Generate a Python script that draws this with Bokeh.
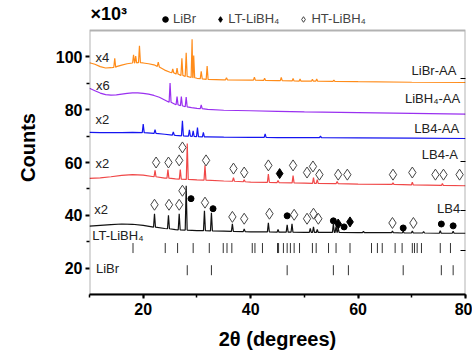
import numpy as np
from bokeh.plotting import figure
from bokeh.models import (LinearAxis, Range1d, SingleIntervalTicker, FixedTicker,
                          Legend, LegendItem, Label, BoxAnnotation)
from bokeh.core.properties import value
from bokeh.embed import file_html
from bokeh.resources import INLINE

FONT = "Liberation Sans"

# ---------------- data (2θ in degrees, counts in 10^3) ----------------
# LiBr-AA (orange)
libraa_base_x = [10, 11, 12, 13, 14, 15, 16, 17, 18, 19, 20, 21, 22, 23, 24, 25, 26, 27, 28, 29, 30, 31, 32, 35, 40, 45, 50, 60, 70, 80]
libraa_base_y = [97.8, 97.2, 96.3, 95.8, 95.9, 96.3, 96.9, 97.4, 97.7, 97.8, 97.7, 97.4, 97.0, 96.2, 95.0, 94.2, 93.6, 93.0, 92.6, 92.2, 91.9, 91.7, 91.5, 91.3, 91.2, 91.0, 90.8, 90.6, 90.4, 90.3]
libraa_peak_pos = [14.7, 18.2, 18.6, 19.3, 22.8, 25.5, 26.3, 27.2, 28.0, 29.1, 29.4, 30.8, 31.9, 35.5, 40.7, 42.6, 45.7, 47.9, 49.2, 51.5, 52.3, 55.5]
libraa_peak_base = [96.0, 97.7, 97.7, 97.8, 96.4, 94.0, 93.5, 93.0, 92.6, 92.2, 92.1, 91.8, 91.5, 91.3, 91.2, 91.1, 91.0, 90.9, 90.8, 90.8, 90.8, 90.7]
libraa_peak_top = [99.5, 100.8, 100.3, 104.2, 98.0, 95.5, 95.8, 99.5, 101.6, 106.7, 100.5, 94.5, 96.5, 92.1, 92.3, 91.9, 92.2, 91.8, 91.6, 91.5, 91.6, 91.2]

# LiBH4-AA (purple)
libh4aa_base_x = [10, 11, 12, 13, 14, 15, 16, 17, 18, 19, 20, 21, 22, 23, 24, 25, 26, 27, 28, 29, 30, 32, 35, 40, 45, 50, 60, 70, 80]
libh4aa_base_y = [88.1, 87.2, 86.3, 85.7, 85.5, 85.6, 85.9, 86.2, 86.4, 86.4, 86.2, 85.9, 85.4, 84.7, 83.7, 82.8, 82.0, 81.5, 81.1, 80.8, 80.5, 80.1, 79.8, 79.6, 79.4, 79.2, 78.9, 78.6, 78.3]
libh4aa_peak_pos = [25.0, 26.3, 27.1, 28.0, 30.8]
libh4aa_peak_base = [82.8, 81.9, 81.5, 81.1, 80.4]
libh4aa_peak_top = [90.1, 85.0, 85.0, 84.8, 81.8]

# LB4-AA (blue)
lb4aa_base_x = [10, 12, 14, 16, 18, 20, 22, 24, 26, 28, 30, 32, 35, 40, 45, 50, 60, 70, 80]
lb4aa_base_y = [71.4, 71.3, 71.3, 71.3, 71.4, 71.3, 71.0, 70.7, 70.3, 70.0, 69.8, 69.7, 69.6, 69.5, 69.4, 69.4, 69.3, 69.2, 69.1]
lb4aa_peak_pos = [20.0, 22.2, 25.6, 27.3, 28.6, 29.3, 30.1, 31.2, 42.7, 53.0]
lb4aa_peak_base = [71.3, 71.0, 70.4, 70.1, 70.0, 69.9, 69.8, 69.7, 69.5, 69.4]
lb4aa_peak_top = [74.6, 72.4, 71.6, 75.8, 72.4, 72.0, 73.2, 71.4, 70.8, 70.0]

# LB4-A (red)
lb4a_base_x = [10, 12, 14, 16, 18, 20, 22, 24, 26, 28, 30, 35, 40, 45, 50, 60, 70, 80]
lb4a_base_y = [54.0, 54.2, 54.6, 55.1, 55.4, 55.2, 54.6, 54.1, 53.8, 53.6, 53.4, 53.0, 52.6, 52.4, 52.2, 51.8, 51.5, 51.2]
lb4a_peak_pos = [22.2, 24.6, 26.9, 28.2, 31.5, 36.8, 38.8, 43.3, 45.1, 47.9, 51.7, 52.4, 56.1, 66.5, 70.1, 75.7]
lb4a_peak_base = [54.6, 54.1, 53.7, 53.6, 53.3, 52.9, 52.7, 52.5, 52.4, 52.3, 52.1, 52.1, 52.0, 51.7, 51.5, 51.3]
lb4a_peak_top = [57.0, 57.3, 57.3, 67.2, 58.9, 54.3, 53.5, 55.6, 53.2, 55.0, 54.3, 53.5, 52.8, 52.3, 52.5, 52.0]

# LB4 (black)
lb4_base_x = [10, 12, 14, 16, 18, 20, 22, 24, 26, 28, 30, 35, 40, 50, 60, 70, 80]
lb4_base_y = [35.9, 36.2, 36.5, 36.7, 36.6, 36.2, 35.5, 35.0, 34.6, 34.4, 34.2, 34.0, 33.7, 33.5, 33.4, 33.3, 33.2]
lb4_peak_pos = [22.1, 24.7, 26.7, 28.0, 31.4, 32.7, 36.6, 38.8, 43.3, 45.1, 46.8, 47.7, 51.1, 51.7, 52.4, 55.4, 55.9, 56.3, 61.0, 66.4, 68.4, 70.1, 72.2, 75.3, 77.7]
lb4_peak_base = [35.5, 34.9, 34.5, 34.4, 34.2, 34.1, 33.9, 33.8, 33.7, 33.6, 33.6, 33.6, 33.5, 33.5, 33.5, 33.5, 33.5, 33.5, 33.4, 33.4, 33.3, 33.3, 33.3, 33.2, 33.2]
lb4_peak_top = [40.6, 40.0, 40.6, 51.2, 41.7, 41.0, 36.8, 34.8, 37.2, 34.6, 36.4, 36.8, 35.0, 35.6, 34.6, 36.8, 35.8, 35.0, 33.9, 34.0, 34.0, 34.0, 33.8, 34.2, 34.0]

# phase markers
ht_x = [22.4, 24.7, 26.7, 27.3, 31.7, 36.8, 38.8, 43.3, 47.9, 50.5, 51.6, 52.8, 56.3, 58.0, 66.5, 70.1, 74.4, 75.9, 78.9,
        22.1, 24.8, 26.7, 27.3, 31.5, 36.6, 38.8, 43.5, 48.1, 50.5, 51.7, 52.6, 66.4, 70.3]
ht_y = [60.0, 60.0, 60.8, 65.7, 60.8, 57.7, 56.2, 58.9, 58.9, 56.2, 58.5, 55.4, 55.4, 55.4, 55.4, 56.2, 55.4, 55.4, 55.4,
        44.0, 44.0, 44.0, 49.3, 44.8, 39.4, 38.7, 40.6, 40.2, 38.7, 40.6, 38.7, 37.1, 37.1]
lt_x = [45.4, 56.3, 58.5]
lt_y = [55.8, 36.7, 37.5]
libr_x = [28.9, 33.0, 46.8, 55.4, 57.4, 68.4, 75.5, 77.7]
libr_y = [46.3, 42.5, 39.8, 37.9, 35.6, 35.2, 36.7, 36.0]

# reference patterns (tick rows)
lt_ref_pos = [18.1, 24.1, 26.4, 29.3, 32.3, 34.9, 35.6, 36.5, 40.3, 40.8, 42.2, 45.0, 45.2, 46.1, 46.8, 47.4, 48.1, 49.1,
              51.5, 52.2, 54.5, 55.9, 58.5, 62.5, 63.6, 64.5, 66.9, 68.2, 70.1, 70.5, 71.0, 71.8, 75.3, 77.2]
libr_ref_pos = [28.2, 32.7, 46.8, 55.4, 58.2, 68.4, 75.5, 77.7]

# text labels
left_labels = ["x4", "x6", "x2", "x2", "x2", "LT-LiBH\u2084", "LiBr"]
left_x = [11.1, 11.2, 11.1, 11.1, 10.9, 10.5, 11.2]
left_y = [99.6, 89.3, 76.4, 59.6, 42.1, 32.2, 20.0]
right_labels = ["LiBr-AA", "LiBH\u2084-AA", "LB4-AA", "LB4-A", "LB4"]
right_x = [78.3, 79.0, 78.8, 78.6, 79.0]
right_y = [94.7, 84.4, 73.0, 63.0, 42.5]
legend_labels = ["LiBr", "LT-LiBH\u2084", "HT-LiBH\u2084"]
scale_label = "\u00d710\u00b3"

# axis limits and ticks
x_lim = (10, 80)
y_lim = (10, 110)
y_major = [20, 40, 60, 80, 100]
y_minor = [30, 50, 70, 90]
right_ticks = [92, 60.5, 42, 26.5]

# frame geometry (px): top edge of the data box sits 30px below the figure top
FRAME_H = 294
BOX_TOP_PX = 30
y_top = y_lim[1] + BOX_TOP_PX * (y_lim[1] - y_lim[0]) / (FRAME_H - BOX_TOP_PX)


def profile(bx, by, pp, pb, pt, w=0.18):
    pts = [(x, y) for x, y in zip(bx, by) if all(abs(x - p) > w for p in pp)]
    for p, b, t in zip(pp, pb, pt):
        pts += [(p - w, b), (p, t), (p + w, b)]
    pts.sort()
    return [q[0] for q in pts], [q[1] for q in pts]


p = figure(width=472, height=354, x_range=Range1d(*x_lim), y_range=Range1d(y_lim[0], y_top),
           output_backend="svg", toolbar_location=None,
           min_border_left=89, min_border_right=7, min_border_top=0, min_border_bottom=60)
p.grid.visible = False
p.outline_line_alpha = 0

# data box
p.add_layout(BoxAnnotation(left=x_lim[0], right=x_lim[1], bottom=y_lim[0], top=y_lim[1],
                           fill_alpha=0, line_color="black", line_width=2))

series = [
    (libraa_base_x, libraa_base_y, libraa_peak_pos, libraa_peak_base, libraa_peak_top, "#FF8C1A"),
    (libh4aa_base_x, libh4aa_base_y, libh4aa_peak_pos, libh4aa_peak_base, libh4aa_peak_top, "#9A30F0"),
    (lb4aa_base_x, lb4aa_base_y, lb4aa_peak_pos, lb4aa_peak_base, lb4aa_peak_top, "#1515F0"),
    (lb4a_base_x, lb4a_base_y, lb4a_peak_pos, lb4a_peak_base, lb4a_peak_top, "#F04848"),
    (lb4_base_x, lb4_base_y, lb4_peak_pos, lb4_peak_base, lb4_peak_top, "#111111"),
]
for bx, by, pp, pb, pt, col in series:
    xs, ys = profile(bx, by, pp, pb, pt)
    p.line(xs, ys, line_color=col, line_width=1.2)

# reference tick rows
p.scatter(lt_ref_pos, [27.6] * len(lt_ref_pos), marker="dash", angle=np.pi / 2, size=10,
          line_color="#333333", line_width=1)
p.scatter(libr_ref_pos, [19.2] * len(libr_ref_pos), marker="dash", angle=np.pi / 2, size=10,
          line_color="#333333", line_width=1)

r_ht = p.scatter(ht_x, ht_y, marker="diamond", size=11, line_color="#444444", line_width=1,
                 fill_alpha=0)
r_lt = p.scatter(lt_x, lt_y, marker="diamond", size=10, line_color="black", fill_color="black")
r_libr = p.scatter(libr_x, libr_y, marker="circle", size=6, line_color="black", fill_color="black")

p.text(left_x, left_y, text=left_labels, text_font=value(FONT), text_font_size="13px",
       text_baseline="middle", text_align="left", text_color="#222222")
p.text(right_x, right_y, text=right_labels, text_font=value(FONT), text_font_size="13px",
       text_baseline="middle", text_align="right", text_color="#222222")

# axes
xa = p.xaxis[0]
xa.ticker = SingleIntervalTicker(interval=20, num_minor_ticks=2)
xa.axis_label = "2\u03b8 (degrees)"
ya = p.yaxis[0]
ya.ticker = FixedTicker(ticks=y_major, minor_ticks=y_minor)
ya.axis_label = "Counts"
ya.axis_line_alpha = 0
for ax in (xa, ya):
    ax.axis_line_width = 2
    ax.major_tick_line_width = 2
    ax.minor_tick_line_width = 1.5
    ax.major_tick_in = 0
    ax.major_tick_out = 4
    ax.minor_tick_in = 0
    ax.minor_tick_out = 3
    ax.major_label_text_font = FONT
    ax.major_label_text_font_style = "bold"
    ax.major_label_text_font_size = "16px"
    ax.major_label_text_color = "black"
    ax.axis_label_text_font = FONT
    ax.axis_label_text_font_style = "bold"
    ax.axis_label_text_font_size = "20px"
    ax.axis_label_text_color = "black"
xa.major_label_standoff = 4
xa.axis_label_standoff = 10
ya.major_label_standoff = 3
ya.axis_label_standoff = 14

ra = LinearAxis(ticker=FixedTicker(ticks=right_ticks, minor_ticks=[]), axis_line_alpha=0,
                major_tick_in=5, major_tick_out=0, major_tick_line_width=1.2,
                major_label_overrides={t: "" for t in right_ticks}, minor_tick_line_alpha=0)
p.add_layout(ra, "right")

p.add_layout(Label(x=x_lim[0], y=(y_lim[1] + y_top) / 2 + 0.6, x_offset=1, text=scale_label,
                   text_font=FONT, text_font_style="bold", text_font_size="18px",
                   text_baseline="middle", text_color="black"))

legend = Legend(items=[LegendItem(label=legend_labels[0], renderers=[r_libr]),
                       LegendItem(label=legend_labels[1], renderers=[r_lt]),
                       LegendItem(label=legend_labels[2], renderers=[r_ht])],
                orientation="horizontal", location=(69, 268),
                border_line_alpha=0, background_fill_alpha=0,
                label_text_font=FONT, label_text_font_size="13px",
                glyph_width=14, glyph_height=14, label_standoff=1, spacing=17,
                padding=0, margin=0)
p.add_layout(legend, "center")

open("out.html", "w").write(file_html(p, INLINE))
